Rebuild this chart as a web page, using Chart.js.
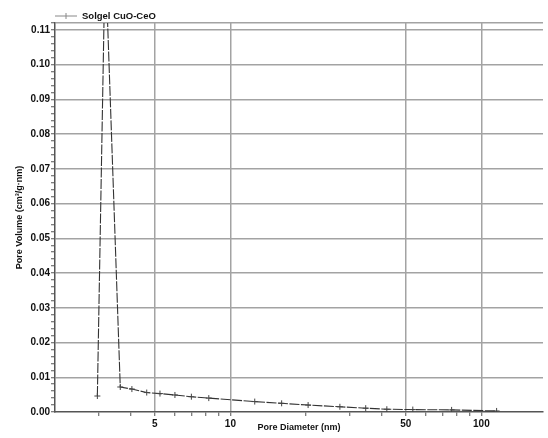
<!DOCTYPE html>
<html>
<head>
<meta charset="utf-8">
<script src="https://cdn.jsdelivr.net/npm/chart.js@4.4.0/dist/chart.umd.min.js"></script>
<style>
  html, body { margin: 0; padding: 0; background: #fff; }
</style>
</head>
<body>
<canvas id="poreChart" width="548" height="438"></canvas>
<script>
// Pore size distribution
const seriesLabel = "Solgel CuO-CeO";
const diameters = [2.95, 3.17, 3.64, 4.05, 4.64, 5.24, 6.01, 6.99, 8.2, 12.5, 16.0, 20.4, 27.3, 34.6, 42.0, 53.3, 76.1, 115];
const volumes = [0.0046, 0.132, 0.0072, 0.0066, 0.0056, 0.0053, 0.0049, 0.0044, 0.0040, 0.0030, 0.0025, 0.0020, 0.0015, 0.0011, 0.0008, 0.0007, 0.0006, 0.0003];

// Axis ticks
const xMajorTicks = [5, 10, 50, 100];
const xMinorTicks = [3, 4, 6, 7, 8, 9, 20, 30, 40, 60, 70, 80, 90];
const yTickLabels = ["0.00", "0.01", "0.02", "0.03", "0.04", "0.05", "0.06", "0.07", "0.08", "0.09", "0.10", "0.11"];
const yMinorStep = 0.002;
const yMax = 0.112;

const gridGrey = "#a3a3a3";
const axisDark = "#555";
const font = { family: "'Liberation Sans', Arial, sans-serif", size: 9, weight: "bold" };

function isYMajor(v) {
    return Math.abs(v * 100 - Math.round(v * 100)) < 1e-6;
}

// Legend drawn at the top-left corner of the plot
const cornerLegend = {
    id: "cornerLegend",
    afterDraw(chart) {
        const ctx = chart.ctx;
        const left = chart.chartArea.left;
        const y = 16;
        ctx.save();
        ctx.strokeStyle = "#888";
        ctx.lineWidth = 1;
        ctx.beginPath();
        ctx.moveTo(left, y);
        ctx.lineTo(left + 22, y);
        ctx.moveTo(left + 11, y - 3);
        ctx.lineTo(left + 11, y + 3);
        ctx.stroke();
        ctx.fillStyle = "#111";
        ctx.font = "bold 9.5px 'Liberation Sans', Arial, sans-serif";
        ctx.textBaseline = "middle";
        ctx.fillText(chart.data.datasets[0].label, left + 27, y);
        ctx.restore();
    }
};

const points = diameters.map((d, i) => ({ x: d, y: volumes[i] }));

new Chart(document.getElementById("poreChart"), {
    type: "scatter",
    data: {
        datasets: [{
            label: seriesLabel,
            data: points,
            showLine: true,
            borderColor: "#333",
            borderWidth: 1.1,
            borderDash: [10, 1.5],
            pointStyle: "cross",
            pointRadius: 3,
            pointBorderColor: "#444",
            pointBorderWidth: 1,
            pointBackgroundColor: "#444",
        }]
    },
    options: {
        responsive: false,
        animation: false,
        devicePixelRatio: 1,
        layout: { padding: { top: 23, right: 0, left: 0, bottom: 0 } },
        plugins: { legend: { display: false }, tooltip: { enabled: false } },
        scales: {
            x: {
                type: "logarithmic",
                min: 2,
                max: 176,
                afterBuildTicks(scale) {
                    scale.ticks = xMinorTicks.concat(xMajorTicks).sort((a, b) => a - b).map(v => ({ value: v }));
                },
                afterFit(scale) {
                    scale.height = 26;
                },
                ticks: {
                    autoSkip: false,
                    maxRotation: 0,
                    padding: 2,
                    color: "#111",
                    font: { family: font.family, size: 10, weight: "bold" },
                    callback: (v) => xMajorTicks.includes(v) ? String(v) : ""
                },
                grid: {
                    color: (c) => c.tick && xMajorTicks.includes(c.tick.value) ? gridGrey : "rgba(0,0,0,0)",
                    lineWidth: 1.5,
                    tickColor: axisDark,
                    tickLength: 4,
                    tickWidth: 1
                },
                border: { color: axisDark, width: 1.5 },
                title: {
                    display: true,
                    text: "Pore Diameter (nm)",
                    color: "#111",
                    font: font,
                    padding: { top: 5, bottom: 5 }
                }
            },
            y: {
                min: 0,
                max: yMax,
                afterBuildTicks(scale) {
                    const ticks = [];
                    for (let i = 0; i * yMinorStep <= yMax + 1e-9; i++) {
                        ticks.push({ value: Math.round(i * yMinorStep * 1000) / 1000 });
                    }
                    scale.ticks = ticks;
                },
                afterFit(scale) { scale.width = 55; },
                ticks: {
                    autoSkip: false,
                    padding: 1,
                    color: "#111",
                    font: { family: font.family, size: 10, weight: "bold" },
                    callback: (v) => isYMajor(v) ? yTickLabels[Math.round(v * 100)] : ""
                },
                grid: {
                    color: (c) => {
                        if (!c.tick) return "rgba(0,0,0,0)";
                        const v = c.tick.value;
                        if (v === 0) return "rgba(0,0,0,0)";
                        return (isYMajor(v) || Math.abs(v - yMax) < 1e-9) ? gridGrey : "rgba(0,0,0,0)";
                    },
                    lineWidth: 1.5,
                    tickColor: axisDark,
                    tickLength: 4,
                    tickWidth: 1
                },
                border: { color: axisDark, width: 1.5 },
                title: {
                    display: true,
                    text: "Pore Volume (cm³/g·nm)",
                    color: "#111",
                    font: font,
                    padding: { top: 14, bottom: 0 }
                }
            }
        }
    },
    plugins: [cornerLegend]
});
</script>
</body>
</html>
